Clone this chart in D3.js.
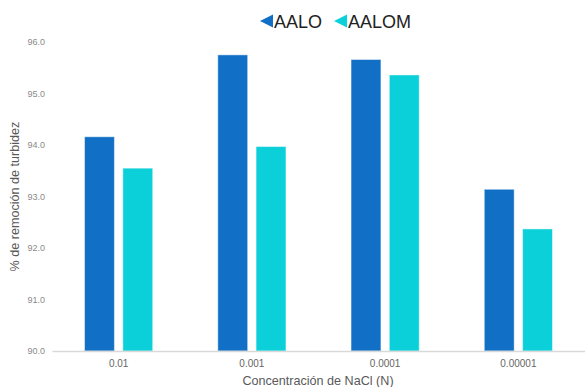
<!DOCTYPE html>
<html>
<head>
<meta charset="utf-8">
<script src="https://cdn.jsdelivr.net/npm/d3@7/dist/d3.min.js"></script>
<style>
  html, body { margin: 0; padding: 0; background: #fff; }
  svg { display: block; font-family: "Liberation Sans", Arial, sans-serif; }
</style>
</head>
<body>
<svg id="chart" width="585" height="387"></svg>
<script>
// NaCl concentrations (N) on the x axis
const categories = ["0.01", "0.001", "0.0001", "0.00001"];
// Turbidity removal (%) for each coagulant
const seriesNames = ["AALO", "AALOM"];
const aalo  = [94.16, 95.75, 95.66, 93.14];
const aalom = [93.55, 93.97, 95.36, 92.37];
const yTicks = [90, 91, 92, 93, 94, 95, 96];
const colors = ["#1170C6", "#0BD0D9"];

const svg = d3.select("#chart");
const margin = { left: 52, right: 0, top: 42, bottom: 36 };
const W = 585, H = 387;

const x = d3.scaleBand()
  .domain(categories)
  .range([margin.left, W - margin.right])
  .paddingInner(0)
  .paddingOuter(0);

const x1 = d3.scaleBand()
  .domain(seriesNames)
  .range([0, x.bandwidth()])
  .paddingInner(0.22)
  .paddingOuter(0.85);

const y = d3.scaleLinear()
  .domain([90, 96])
  .range([H - margin.bottom, margin.top]);

// y tick labels (no axis line)
const yAxis = d3.axisLeft(y)
  .tickValues(yTicks)
  .tickFormat(d3.format(".1f"))
  .tickSize(0)
  .tickPadding(7);
const gy = svg.append("g")
  .attr("transform", `translate(${margin.left},0)`)
  .call(yAxis);
gy.select(".domain").remove();
gy.selectAll("text")
  .attr("fill", "#8a8a8a")
  .attr("font-size", 9)
  .attr("font-family", "Liberation Sans, Arial, sans-serif");

// bars
const data = categories.map((c, i) => ({ cat: c, vals: [aalo[i], aalom[i]] }));
const groups = svg.append("g").selectAll("g")
  .data(data)
  .join("g")
  .attr("transform", d => `translate(${x(d.cat)},0)`);

groups.selectAll("rect")
  .data(d => d.vals.map((v, j) => ({ name: seriesNames[j], v, j })))
  .join("rect")
  .attr("x", d => x1(d.name))
  .attr("width", x1.bandwidth())
  .attr("y", d => y(d.v))
  .attr("height", d => y(90) - y(d.v))
  .attr("fill", d => colors[d.j])
  .attr("stroke", "rgba(255,255,255,0.45)")
  .attr("stroke-width", 1);

// x axis baseline and labels
const xAxis = d3.axisBottom(x).tickSize(0).tickPadding(9);
const gx = svg.append("g")
  .attr("transform", `translate(0,${y(90)})`)
  .call(xAxis);
gx.select(".domain")
  .attr("stroke", "#d9d9d9")
  .attr("stroke-width", 1.5);
gx.selectAll("text")
  .attr("fill", "#666")
  .attr("font-size", 10)
  .attr("font-family", "Liberation Sans, Arial, sans-serif");

// axis titles
svg.append("text")
  .attr("x", 318)
  .attr("y", 385)
  .attr("text-anchor", "middle")
  .attr("font-size", 12.6)
  .attr("fill", "#595959")
  .text("Concentración de NaCl (N)");

svg.append("text")
  .attr("transform", `translate(19,${(margin.top + H - margin.bottom) / 2}) rotate(-90)`)
  .attr("text-anchor", "middle")
  .attr("font-size", 12.6)
  .attr("fill", "#595959")
  .text("% de remoción de turbidez");

// legend
const legend = svg.append("g").attr("transform", "translate(260,21)");
let lx = 0;
seriesNames.forEach((name, i) => {
  const g = legend.append("g").attr("transform", `translate(${lx},0)`);
  g.append("path")
    .attr("d", "M0,0 L13,-6.5 L13,6.5 Z")
    .attr("fill", colors[i]);
  const t = g.append("text")
    .attr("x", 14)
    .attr("y", 6.5)
    .attr("font-size", 18)
    .attr("fill", "#222")
    .text(name);
  lx += 14 + t.node().getComputedTextLength() + 12;
});
</script>
</body>
</html>
